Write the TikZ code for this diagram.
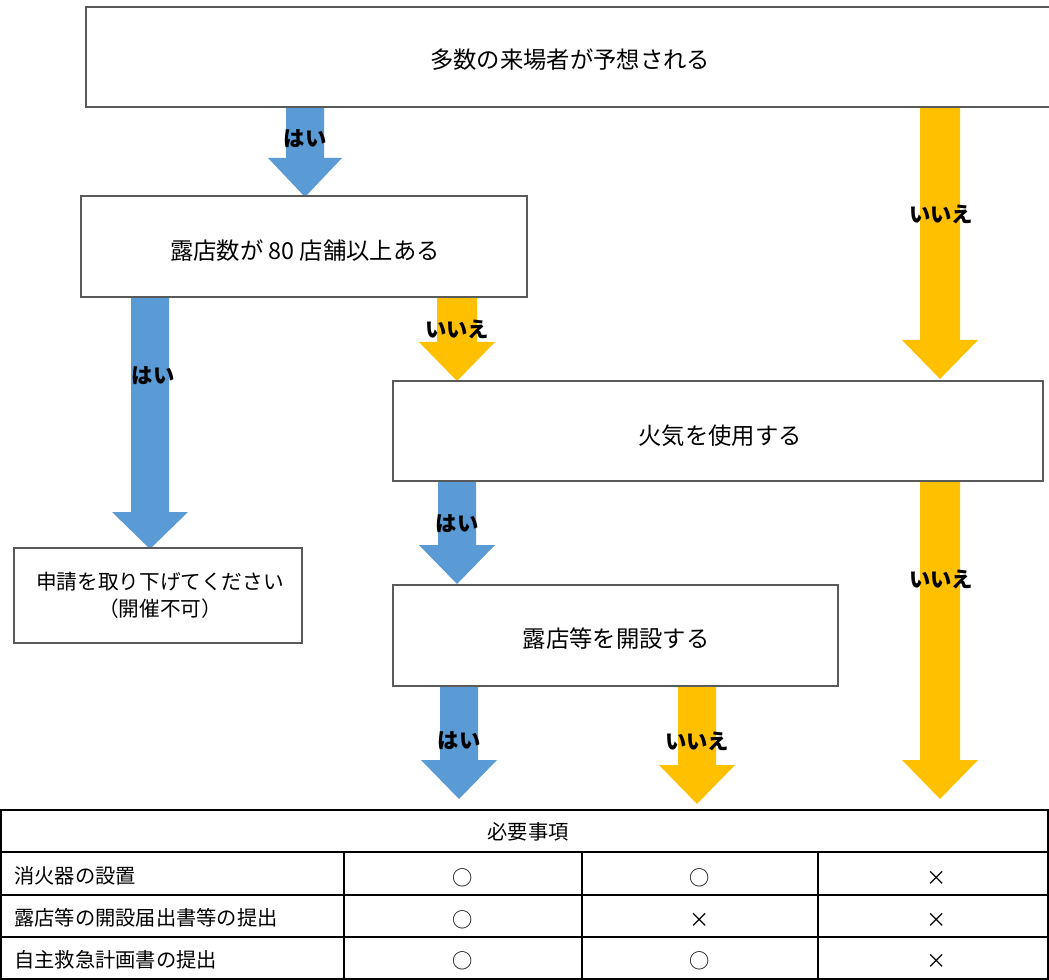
\documentclass[tikz,border=0pt]{standalone}
\usepackage{fontspec}
\setmainfont{Noto Sans CJK JP}
\usetikzlibrary{fit}
\definecolor{ablue}{HTML}{5B9BD5}
\definecolor{aorange}{HTML}{FFC000}
\definecolor{boxline}{HTML}{5A5A5A}
\tikzset{
  box/.style={draw=boxline, line width=1.6pt, fill=white, inner sep=0pt},
  boxtext/.style={align=center, inner sep=0pt, font=\fontsize{17.5}{20.5}\selectfont},
  lbl/.style={font=\fontsize{16}{18}\selectfont\bfseries, inner sep=0pt},
  cell/.style={font=\fontsize{15.2}{17}\selectfont, inner sep=0pt},
  tline/.style={line width=1.2pt, black}
}
% block arrow: colour, centre x, top y, head start y, tip y, half shaft, half head
\newcommand\blockarrow[7]{%
  \fill[#1] (#2-#6,#3) -- (#2+#6,#3) -- (#2+#6,#4) -- (#2+#7,#4) -- (#2,#5)
     -- (#2-#7,#4) -- (#2-#6,#4) -- cycle;}
\begin{document}
\begin{tikzpicture}[x=0.75pt,y=-0.75pt]
\useasboundingbox (0,0) rectangle (1049,980);
\clip (0,0) rectangle (1049,980);
\fill[white] (0,0) rectangle (1049,980);

% arrows (drawn first so boxes sit on top)
\blockarrow{ablue}{305}{105}{158}{197}{19}{37}
\blockarrow{aorange}{940}{105}{340}{379}{20}{38}
\blockarrow{ablue}{150}{295}{512}{549}{19}{38}
\blockarrow{aorange}{457}{295}{342}{381}{20}{38}
\blockarrow{ablue}{457}{479}{545}{584}{19}{38}
\blockarrow{aorange}{940}{479}{760}{799}{20}{38}
\blockarrow{ablue}{459}{684}{760}{799}{19}{38}
\blockarrow{aorange}{697}{684}{765}{804}{19}{38}

% boxes
\node[box, fit={(86,7) (1062,107)}] (b1) {};
\node[box, fit={(81,196) (527,297)}] (b2) {};
\node[box, fit={(393,381) (1043,481)}] (b3) {};
\node[box, fit={(14,548) (302,643)}] (b4) {};
\node[box, fit={(393,585) (838,686)}] (b5) {};

\node[boxtext] (t1) at (570,60) {多数の来場者が予想される};
\node[boxtext] (t2) at (305,251) {露店数が 80 店舗以上ある};
\node[boxtext] (t3) at (720,436) {火気を使用する};
\node[boxtext, font=\fontsize{15.5}{20}\selectfont] (t4) at (160,595) {申請を取り下げてください\\（開催不可）};
\node[boxtext] (t5) at (616,639) {露店等を開設する};

% labels
\node[lbl] (l1) at (305,139) {はい};
\node[lbl] (l2) at (941,214) {いいえ};
\node[lbl] (l3) at (153,376) {はい};
\node[lbl] (l4) at (457,329) {いいえ};
\node[lbl] (l5) at (457,524) {はい};
\node[lbl] (l6) at (941,579) {いいえ};
\node[lbl] (l7) at (459,741) {はい};
\node[lbl] (l8) at (697,741) {いいえ};

% table
\draw[tline] (1,810) rectangle (1048,979);
\draw[tline] (1,852) -- (1048,852);
\draw[tline] (1,895) -- (1048,895);
\draw[tline] (1,937) -- (1048,937);
\draw[tline] (344,852) -- (344,979);
\draw[tline] (582,852) -- (582,979);
\draw[tline] (818,852) -- (818,979);

\node[cell] (h) at (528,832) {必要事項};
\node[cell, anchor=west] (r1) at (14,876) {消火器の設置};
\node[cell, anchor=west] (r2) at (14,918) {露店等の開設届出書等の提出};
\node[cell, anchor=west] (r3) at (14,960) {自主救急計画書の提出};

\node[cell] (c11) at (463,878) {○};
\node[cell] (c12) at (700,878) {○};
\node[cell] (c13) at (937,878) {×};
\node[cell] (c21) at (463,920) {○};
\node[cell] (c22) at (700,920) {×};
\node[cell] (c23) at (937,920) {×};
\node[cell] (c31) at (463,961) {○};
\node[cell] (c32) at (700,961) {○};
\node[cell] (c33) at (937,961) {×};
\end{tikzpicture}
\end{document}
